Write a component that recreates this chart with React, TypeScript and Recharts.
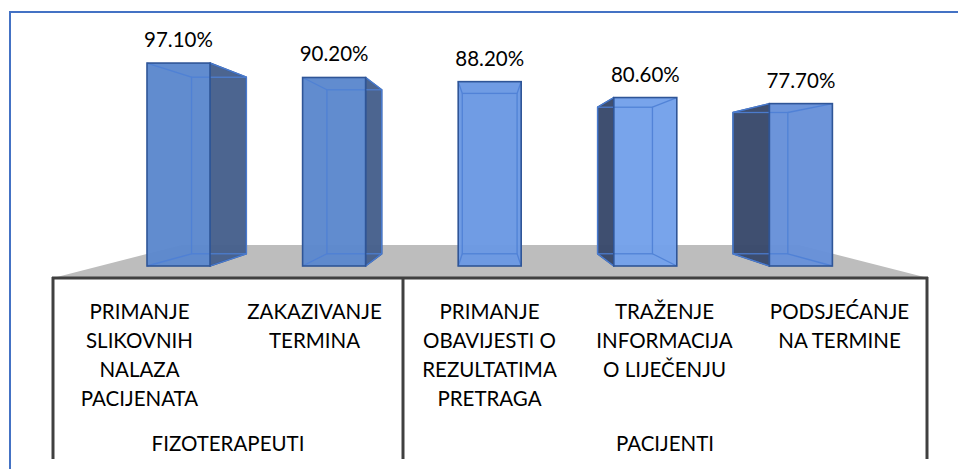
import React from 'react';
import { BarChart, Bar, XAxis, YAxis, LabelList, Customized } from 'recharts';

// categories (line breaks as in the original wrapped labels)
const categories = [
  'PRIMANJE\nSLIKOVNIH\nNALAZA\nPACIJENATA',
  'ZAKAZIVANJE\nTERMINA',
  'PRIMANJE\nOBAVIJESTI O\nREZULTATIMA\nPRETRAGA',
  'TRAŽENJE\nINFORMACIJA\nO LIJEČENJU',
  'PODSJEĆANJE\nNA TERMINE',
];
const values = [97.1, 90.2, 88.2, 80.6, 77.7];
const groups = ['FIZOTERAPEUTI', 'PACIJENTI'];
const groupSpans = [2, 3];

const data = categories.map((name, i) => ({ name, value: values[i] }));

const W = 958;
const H = 469;
const M = { top: 57, right: 31, bottom: 0, left: 52 };
const CAT_AXIS_H = 203;
const plotLeft = M.left;
const plotRight = W - M.right;
const plotTop = M.top;
const plotBottom = H - M.bottom - CAT_AXIS_H;
const plotW = plotRight - plotLeft;

// perspective: vanishing point + depth factor for the bar backs
const VPX = plotLeft + plotW / 2;
const VPY = plotTop + 115;
const DEPTH = 0.87;

const FONT = 'Lato, Calibri, "Open Sans", sans-serif';
const FACE = ['#5B87CD', '#5B87CD', '#6A98E3', '#72A0EA', '#6690D8'];
const SIDE = ['#46608C', '#46608C', '#4A6699', '#39496B', '#39496B'];

const Box3D = (props: any) => {
  const { x, y, width, height, index } = props;
  const x0 = x, x1 = x + width, y0 = y, y1 = y + height;
  const bx = (v: number) => VPX + DEPTH * (v - VPX);
  const by = (v: number) => VPY + DEPTH * (v - VPY);
  const bx0 = bx(x0), bx1 = bx(x1), by0 = by(y0), by1 = by(y1);
  let side: string | null = null;
  if (bx1 > x1) side = `${x1},${y0} ${bx1},${by0} ${bx1},${by1} ${x1},${y1}`;
  else if (bx0 < x0) side = `${x0},${y0} ${bx0},${by0} ${bx0},${by1} ${x0},${y1}`;
  const inner = '#4E80D6';
  return (
    <g>
      {side && (
        <polygon points={side} fill={SIDE[index] || SIDE[0]} fillOpacity={0.97}
          stroke="#2F5597" strokeWidth={1.5} strokeLinejoin="round" />
      )}
      <rect x={x0} y={y0} width={width} height={height} fill={FACE[index] || FACE[0]} fillOpacity={0.96} />
      <g stroke={inner} strokeWidth={1.3} fill="none" opacity={0.9}>
        <rect x={bx0} y={by0} width={bx1 - bx0} height={by1 - by0} />
        <line x1={x0} y1={y0} x2={bx0} y2={by0} />
        <line x1={x1} y1={y0} x2={bx1} y2={by0} />
        <line x1={x0} y1={y1} x2={bx0} y2={by1} />
        <line x1={x1} y1={y1} x2={bx1} y2={by1} />
      </g>
      <rect x={x0} y={y0} width={width} height={height} fill="none" stroke="#2F5597" strokeWidth={1.6} />
    </g>
  );
};

const Floor = () => {
  const frontY = plotBottom + 12;
  const backY = plotBottom - 21;
  const fl = plotLeft + 1;
  const fr = plotRight + 1;
  const kx = 0.705;
  const bl = VPX + kx * (fl - VPX);
  const br = VPX + kx * (fr - VPX);
  return (
    <polygon points={`${fl},${frontY} ${bl},${backY} ${br},${backY} ${fr},${frontY}`} fill="#BDBDBD" />
  );
};

const AxisFrame = () => {
  const frontY = plotBottom + 12;
  const bottomY = plotBottom + 193;
  const bounds: number[] = [0];
  groupSpans.forEach((s, i) => bounds.push(bounds[i] + s));
  const n = categories.length;
  const xs = bounds.map(b => plotLeft + 1 + (plotW * b) / n - (b === n ? 1 : 0));
  return (
    <g>
      <line x1={plotLeft} y1={frontY} x2={plotRight + 1} y2={frontY} stroke="#404040" strokeWidth={3} />
      {xs.map((xv, i) => (
        <line key={i} x1={xv} y1={frontY - 1} x2={xv} y2={bottomY} stroke="#404040" strokeWidth={3} />
      ))}
      {groups.map((g, i) => (
        <text key={g} x={(xs[i] + xs[i + 1]) / 2} y={plotBottom + 185} textAnchor="middle"
          fontSize={20.5} fontFamily={FONT} fill="#000">{g}</text>
      ))}
    </g>
  );
};

const CatTick = (props: any) => {
  const { x, y, payload } = props;
  const lines = String(payload.value).split('\n');
  return (
    <g>
      {lines.map((l, i) => (
        <text key={i} x={x} y={y + 23 + i * 29} textAnchor="middle" fontSize={20.5}
          fontFamily={FONT} fill="#000">{l}</text>
      ))}
    </g>
  );
};

const ValueLabel = (props: any) => {
  const { x, y, width, value } = props;
  return (
    <text x={x + width / 2} y={y - 16} textAnchor="middle" fontSize={20.5} fontFamily={FONT} fill="#000">
      {Number(value).toFixed(2)}%
    </text>
  );
};

export default function App() {
  return (
    <div style={{ position: 'fixed', left: 0, top: 0, width: W, height: H, background: '#fff' }}>
      <div style={{ position: 'absolute', left: 9, top: 11, right: 0, bottom: 0,
        borderTop: '2px solid #4472C4', borderLeft: '2px solid #4472C4' }} />
      <div style={{ position: 'absolute', left: 0, top: 0 }}>
        <BarChart width={W} height={H} data={data} margin={M}>
          <Customized component={Floor} />
          <YAxis hide domain={[0, 100]} />
          <XAxis xAxisId="bars" dataKey="name" hide padding={{ left: 49, right: 48 }} />
          <XAxis xAxisId="cats" dataKey="name" height={CAT_AXIS_H} axisLine={false} tickLine={false}
            tickSize={0} tickMargin={0} interval={0} tick={<CatTick />} />
          <Bar xAxisId="bars" dataKey="value" barSize={63} shape={<Box3D />} isAnimationActive={false}>
            <LabelList dataKey="value" content={<ValueLabel />} />
          </Bar>
          <Customized component={AxisFrame} />
        </BarChart>
      </div>
    </div>
  );
}
